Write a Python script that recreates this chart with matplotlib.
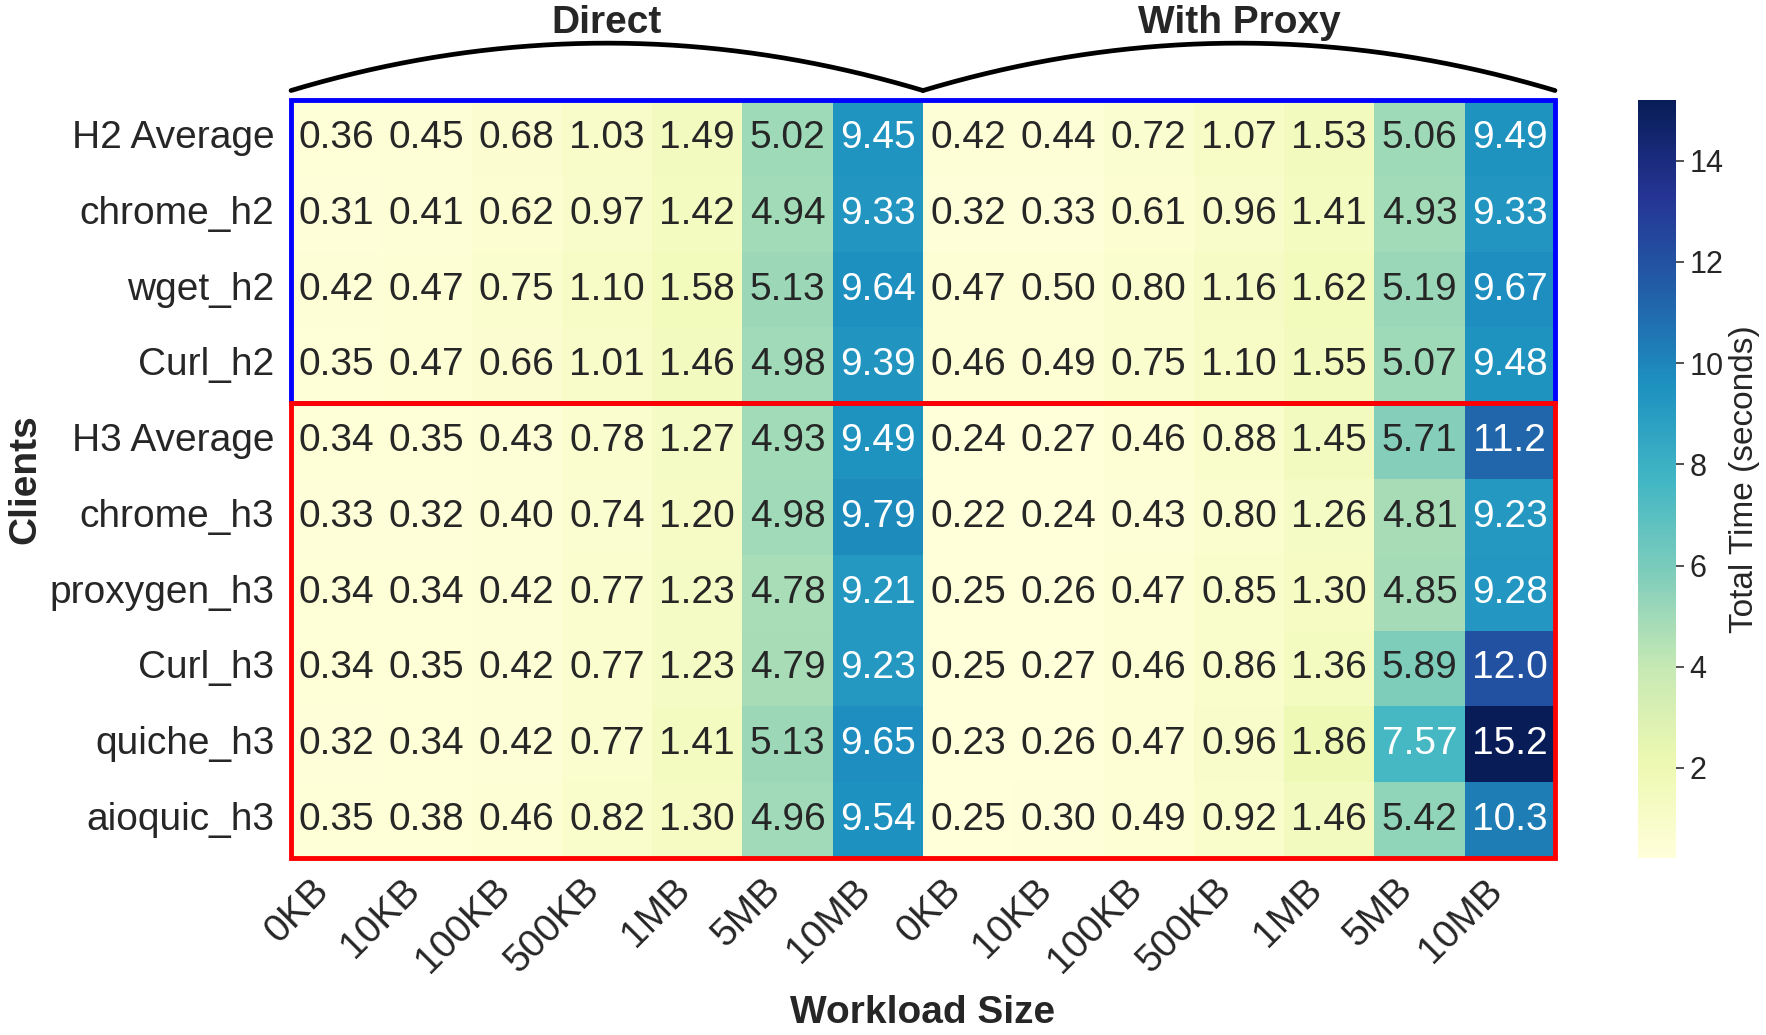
import numpy as np
import pandas as pd
import matplotlib
matplotlib.use("Agg")
import matplotlib.pyplot as plt
import seaborn as sns
from matplotlib.patches import Rectangle

# data
clients = ["H2 Average", "chrome_h2", "wget_h2", "Curl_h2",
           "H3 Average", "chrome_h3", "proxygen_h3", "Curl_h3",
           "quiche_h3", "aioquic_h3"]
sizes = ["0KB", "10KB", "100KB", "500KB", "1MB", "5MB", "10MB"]
groups = ["Direct", "With Proxy"]

direct = [
    [0.36, 0.45, 0.68, 1.03, 1.49, 5.02, 9.45],
    [0.31, 0.41, 0.62, 0.97, 1.42, 4.94, 9.33],
    [0.42, 0.47, 0.75, 1.10, 1.58, 5.13, 9.64],
    [0.35, 0.47, 0.66, 1.01, 1.46, 4.98, 9.39],
    [0.34, 0.35, 0.43, 0.78, 1.27, 4.93, 9.49],
    [0.33, 0.32, 0.40, 0.74, 1.20, 4.98, 9.79],
    [0.34, 0.34, 0.42, 0.77, 1.23, 4.78, 9.21],
    [0.34, 0.35, 0.42, 0.77, 1.23, 4.79, 9.23],
    [0.32, 0.34, 0.42, 0.77, 1.41, 5.13, 9.65],
    [0.35, 0.38, 0.46, 0.82, 1.30, 4.96, 9.54],
]
proxy = [
    [0.42, 0.44, 0.72, 1.07, 1.53, 5.06, 9.49],
    [0.32, 0.33, 0.61, 0.96, 1.41, 4.93, 9.33],
    [0.47, 0.50, 0.80, 1.16, 1.62, 5.19, 9.67],
    [0.46, 0.49, 0.75, 1.10, 1.55, 5.07, 9.48],
    [0.24, 0.27, 0.46, 0.88, 1.45, 5.71, 11.2],
    [0.22, 0.24, 0.43, 0.80, 1.26, 4.81, 9.23],
    [0.25, 0.26, 0.47, 0.85, 1.30, 4.85, 9.28],
    [0.25, 0.27, 0.46, 0.86, 1.36, 5.89, 12.0],
    [0.23, 0.26, 0.47, 0.96, 1.86, 7.57, 15.2],
    [0.25, 0.30, 0.49, 0.92, 1.46, 5.42, 10.3],
]
n_h2 = 4  # first block of rows are HTTP/2 clients

values = np.hstack([np.array(direct), np.array(proxy)])
df = pd.DataFrame(values, index=clients, columns=sizes * 2)
labels = np.vectorize(lambda v: f"{v:.2f}" if v < 10 else f"{v:.1f}")(values)

sns.set_style("white")
plt.rcParams["font.family"] = ["Liberation Sans", "DejaVu Sans"]

W, H = 1766, 1035
fig = plt.figure(figsize=(W / 100, H / 100), dpi=100)
ax = fig.add_axes([291 / W, 1 - 858 / H, 1264 / W, 758 / H])
cax = fig.add_axes([1638 / W, 1 - 858 / H, 38 / W, 758 / H])

sns.heatmap(df, ax=ax, cbar_ax=cax, cmap="YlGnBu", annot=labels, fmt="",
            annot_kws={"fontsize": 28})

ax.tick_params(axis="both", length=0, labelsize=28)
ax.tick_params(axis="y", pad=12)
ax.tick_params(axis="x", pad=10)
plt.setp(ax.get_xticklabels(), rotation=45, ha="right")
plt.setp(ax.get_yticklabels(), rotation=0)

ax.set_xlabel("Workload Size", fontsize=28, fontweight="bold", va="center")
ax.xaxis.set_label_coords(0.5, -0.205)
ax.set_ylabel("Clients", fontsize=28, fontweight="bold", va="center")
ax.yaxis.set_label_coords(-0.21, 0.5)

# colorbar
cax.tick_params(labelsize=22, length=6, width=1.2, right=True, color="#333333")
cax.set_ylabel("Total Time (seconds)", fontsize=24)

# boxes around h2 and h3 groups
nc = values.shape[1]
ax.add_patch(Rectangle((0, 0), nc, n_h2, fill=False, edgecolor="blue",
                       lw=3.5, clip_on=False))
ax.add_patch(Rectangle((0, n_h2), nc, len(clients) - n_h2, fill=False,
                       edgecolor="red", lw=3.5, clip_on=False))

# arcs over the two column groups
for i, g in enumerate(groups):
    x0 = i * len(sizes)
    half = len(sizes) / 2
    xs = np.linspace(x0, x0 + len(sizes), 200)
    ys = -0.125 - 0.625 * (1 - ((xs - x0 - half) / half) ** 2)
    ax.plot(xs, ys, color="black", lw=3.4, clip_on=False)
    ax.text(x0 + half, -1.02, g, ha="center", va="center",
            fontsize=28, fontweight="bold", color="#262626")

fig.savefig("out.png", dpi=100)
